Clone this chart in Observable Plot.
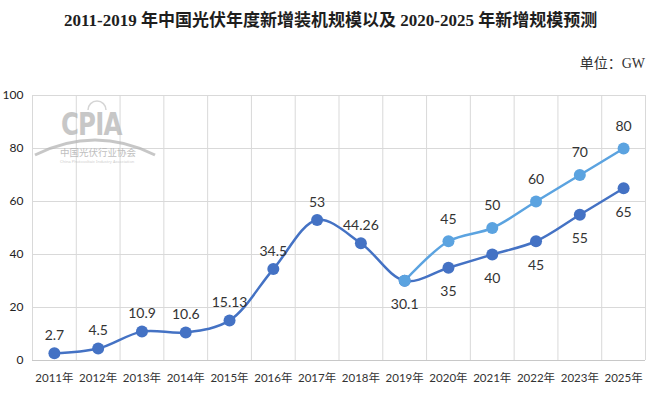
<!DOCTYPE html>
<html><head><meta charset="utf-8">
<script src="https://cdn.jsdelivr.net/npm/d3@7"></script>
<script src="https://cdn.jsdelivr.net/npm/@observablehq/plot@0.6"></script>
<style>
body{margin:0;background:#fff}
#wrap{position:relative;width:661px;height:396px;overflow:hidden;background:#fff}
#title{position:absolute;left:64px;top:10px;white-space:nowrap;font:bold 17px/22px "Liberation Serif","Noto Sans CJK SC",serif;color:#1e1e1e}
#unit{position:absolute;right:16px;top:54px;font:14px/20px "Liberation Serif","Noto Sans CJK SC",serif;color:#333}
#wm{position:absolute;left:30px;top:95px;width:130px;height:75px;pointer-events:none;opacity:0.75}
#wm .cpia{position:absolute;left:31px;top:10px;font:bold 32px "DejaVu Sans Condensed","DejaVu Sans",sans-serif;color:#b5b5b5;letter-spacing:-1px;transform:scaleX(0.85);transform-origin:left}
#wm .cn{position:absolute;left:30px;top:50px;font:9.5px "Noto Sans CJK SC",sans-serif;color:#aaa}
#wm .en{position:absolute;left:30px;top:64px;font:4px "Noto Sans",sans-serif;color:#bbb}
#wm svg{position:absolute;left:0;top:0}
#chart{position:absolute;left:0;top:0}
</style></head>
<body><div id="wrap">
<div id="chart"></div>
<div id="title">2011-2019 年中国光伏年度新增装机规模以及 2020-2025 年新增规模预测</div>
<div id="unit">单位：GW</div>
<div id="wm">
<svg width="130" height="75"><path d="M5,60 Q65,30 125,60" fill="none" stroke="#b5b5b5" stroke-width="3"/>
<path d="M58,15 a9,9 0 0 1 18,0" fill="none" stroke="#c8c8c8" stroke-width="1.5"/></svg>
<div class="cpia">CPIA</div>
<div class="cn">中国光伏行业协会</div>
<div class="en">China Photovoltaic Industry Association</div>
</div>
</div>
<script>
const years = ["2011年","2012年","2013年","2014年","2015年","2016年","2017年","2018年","2019年","2020年","2021年","2022年","2023年","2025年"];
const lowValues = [2.7,4.5,10.9,10.6,15.13,34.5,53,44.26,30.1,35,40,45,55,65];
const highYears = ["2019年","2020年","2021年","2022年","2023年","2025年"];
const highValues = [30.1,45,50,60,70,80];
const yTicks = [0,20,40,60,80,100];

const dark = "#4472c4", light = "#5ba3e0";
const lowData = years.map((y, i) => ({i, v: lowValues[i], label: String(lowValues[i]), below: i >= 8}));
const highData = highYears.map((y, k) => ({i: years.indexOf(y), v: highValues[k], label: String(highValues[k])}));
const font = "Lato, 'Noto Sans CJK SC', sans-serif";

const chart = Plot.plot({
  width: 661, height: 396,
  marginTop: 95, marginBottom: 36, marginLeft: 32, marginRight: 16,
  style: {fontFamily: font, color: "#333", background: "transparent"},
  x: {type: "linear", domain: [-0.5, years.length - 0.5]},
  y: {domain: [0, 100]},
  marks: [
    Plot.ruleY(yTicks, {stroke: "#d9d9d9", strokeWidth: 1}),
    Plot.ruleX(d3.range(years.length + 1).map(k => k - 0.5), {stroke: "#d9d9d9", strokeWidth: 1}),
    Plot.ruleY([0], {stroke: "#c8c8c8", strokeWidth: 1.2}),
    Plot.axisY({ticks: yTicks, tickSize: 0, tickPadding: 9, label: null, fontSize: 12, fill: "#222"}),
    Plot.axisX({ticks: d3.range(years.length), tickFormat: i => years[i], tickSize: 0, tickPadding: 13, label: null, fontSize: 11.5, fill: "#333"}),
    Plot.line(lowData, {x: "i", y: "v", curve: "catmull-rom", stroke: dark, strokeWidth: 2.5}),
    Plot.line(highData, {x: "i", y: "v", curve: "catmull-rom", stroke: light, strokeWidth: 2.5}),
    Plot.dot(lowData, {x: "i", y: "v", r: 6, fill: dark}),
    Plot.dot(highData, {x: "i", y: "v", r: 6, fill: light}),
    Plot.text(lowData.filter(d => !d.below), {x: "i", y: "v", text: "label", dy: -18, fontSize: 14, fill: "#333"}),
    Plot.text(lowData.filter(d => d.below), {x: "i", y: "v", text: "label", dy: 24, fontSize: 14, fill: "#333"}),
    Plot.text(highData.slice(1), {x: "i", y: "v", text: "label", dy: -22, fontSize: 14, fill: "#333"})
  ]
});
document.getElementById("chart").appendChild(chart);
</script>
</body></html>
